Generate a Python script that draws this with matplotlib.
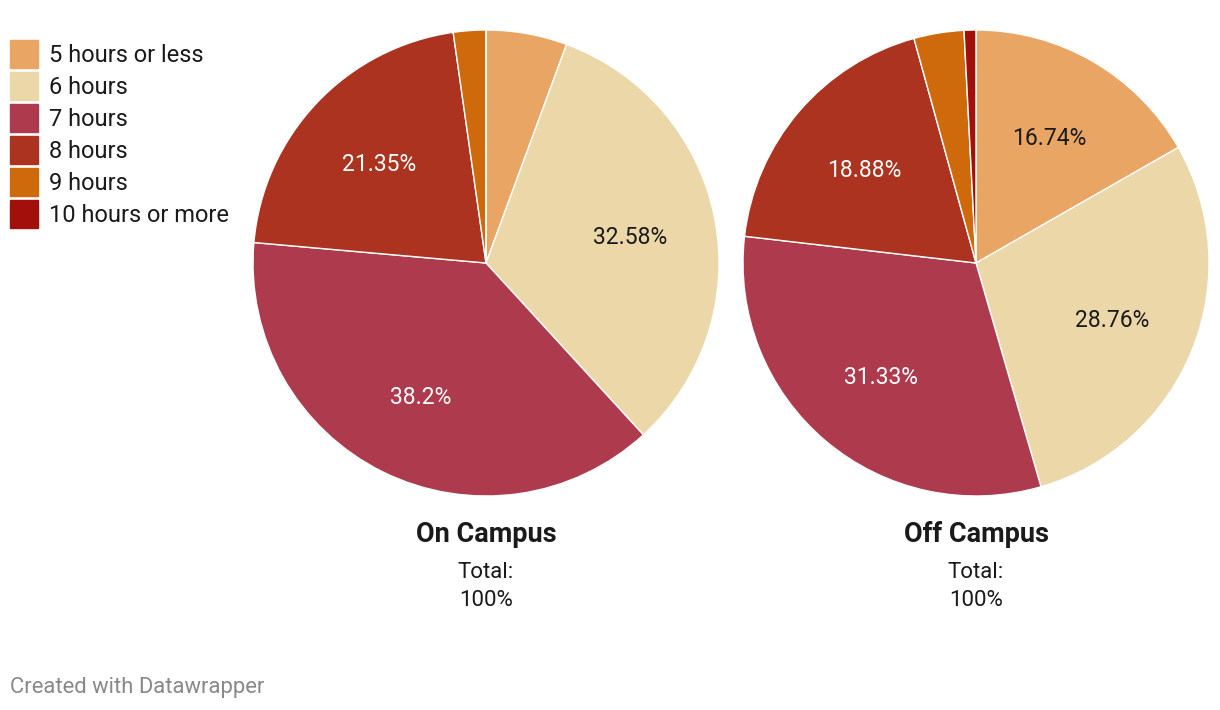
import numpy as np
import matplotlib
matplotlib.use("Agg")
from matplotlib import pyplot as plt
from matplotlib.patches import Rectangle

# sleep hours by residence
categories = ["5 hours or less", "6 hours", "7 hours", "8 hours", "9 hours", "10 hours or more"]
on_campus = [5.62, 32.58, 38.2, 21.35, 2.25, 0.0]
off_campus = [16.74, 28.76, 31.33, 18.88, 3.47, 0.82]
group_names = ["On Campus", "Off Campus"]

colors = ["#e8a563", "#ebd7a7", "#ae3a4e", "#ab331f", "#cf6a0c", "#a1100b"]
text_colors = ["#1a1a1a", "#1a1a1a", "white", "white", "white", "white"]

plt.rcParams['font.family'] = ['Roboto', 'DejaVu Sans']

W, H = 1220, 710
fig = plt.figure(figsize=(W / 100, H / 100), dpi=100)

R = 233
centers = [(486, 263), (976, 263)]

for (cx, cy), vals, name in zip(centers, [on_campus, off_campus], group_names):
    ax = fig.add_axes([(cx - R) / W, 1 - (cy + R) / H, 2 * R / W, 2 * R / H])
    wedges, _ = ax.pie(vals, colors=colors, startangle=90, counterclock=False,
                       wedgeprops=dict(edgecolor="white", linewidth=1))
    ax.set_xlim(-1, 1)
    ax.set_ylim(-1, 1)
    ax.set_aspect("equal")
    ax.axis("off")
    # percentage labels only on the big slices
    for w, v, tc in zip(wedges, vals, text_colors):
        if v < 10:
            continue
        ang = np.deg2rad((w.theta1 + w.theta2) / 2)
        ax.text(0.63 * np.cos(ang), 0.63 * np.sin(ang) - 0.012, f"{v:g}%", color=tc,
                ha="center", va="center", fontsize=16.5)
    fig.text(cx / W, 1 - 535 / H, name, ha="center", va="center",
             fontsize=19.5, fontweight="bold", color="#1a1a1a")
    fig.text(cx / W, 1 - 572 / H, "Total:", ha="center", va="center",
             fontsize=16, color="#1a1a1a")
    fig.text(cx / W, 1 - 600 / H, "100%", ha="center", va="center",
             fontsize=16, color="#1a1a1a")

# legend
for i, (lab, c) in enumerate(zip(categories, colors)):
    y = 54 + i * 32
    fig.patches.append(Rectangle((10 / W, 1 - (y + 14) / H), 28 / W, 28 / H,
                                 transform=fig.transFigure, color=c))
    fig.text(49 / W, 1 - (y + 1) / H, lab, ha="left", va="center", fontsize=17, color="#1a1a1a")

fig.text(10 / W, 1 - 687 / H, "Created with Datawrapper", ha="left", va="center",
         fontsize=15.8, color="#888888")

fig.savefig("out.png", dpi=100)
